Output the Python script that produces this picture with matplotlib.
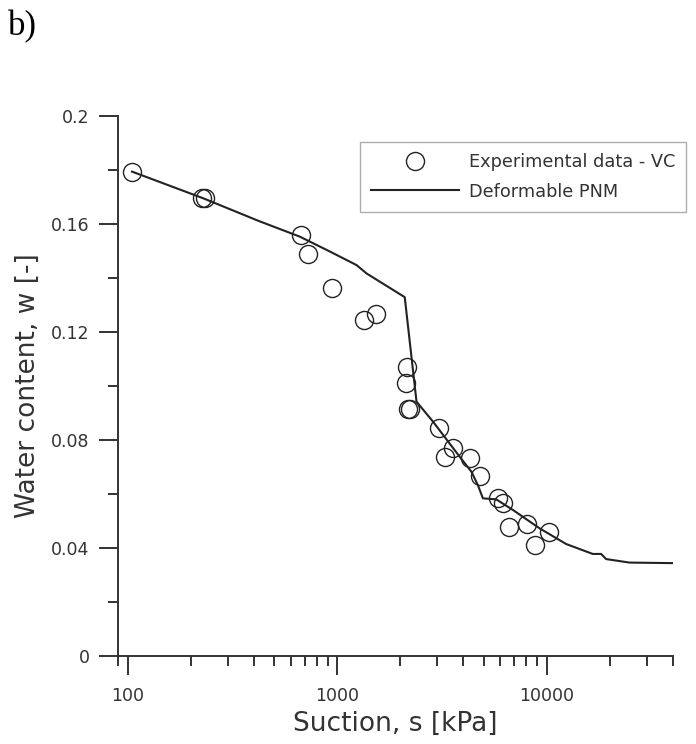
import matplotlib
matplotlib.use("Agg")
import matplotlib.pyplot as plt
from matplotlib.ticker import FixedLocator, LogLocator, NullFormatter, FuncFormatter

# experimental points (VC)
exp_suction = [105, 226, 234, 670, 728, 940, 1346, 1528, 2162, 2137, 2182, 2230,
               3070, 3567, 3259, 4285, 4783, 5848, 6170, 6591, 8063, 8738, 10300]
exp_water = [0.1794, 0.1695, 0.1695, 0.1559, 0.1489, 0.1364, 0.1244, 0.1267, 0.1072,
             0.1010, 0.0914, 0.0914, 0.0846, 0.0769, 0.0738, 0.0732, 0.0667, 0.0584,
             0.0568, 0.0479, 0.0488, 0.0411, 0.0458]

# deformable PNM curve
pnm_suction = [105, 230, 420, 664, 923, 1236, 1380, 2100, 2390, 2865, 3840, 4365, 4690,
               4955, 5740, 6890, 9230, 12350, 16560, 18160, 19190, 24800, 39800]
pnm_water = [0.1794, 0.1695, 0.1612, 0.1553, 0.1498, 0.1448, 0.1417, 0.1329, 0.0942,
             0.0868, 0.0738, 0.0683, 0.0633, 0.0584, 0.0580, 0.0541, 0.0473, 0.0415,
             0.0378, 0.0378, 0.0359, 0.0346, 0.0344]

y_major = [0, 0.04, 0.08, 0.12, 0.16, 0.2]
y_minor = [0.02, 0.06, 0.10, 0.14, 0.18]

dark = '#333333'

fig = plt.figure(figsize=(6.96, 7.44), dpi=100)
ax = fig.add_axes([118 / 696, 1 - 656 / 744, (673 - 118) / 696, (656 - 116) / 744])

ax.plot(pnm_suction, pnm_water, color='#222222', lw=1.5, label='Deformable PNM', zorder=2)
ax.plot(exp_suction, exp_water, ls='none', marker='o', ms=13, mfc='none',
        mec='#222222', mew=1.0, label='Experimental data - VC', zorder=3)

ax.set_xscale('log')
ax.set_xlim(90, 40000)
ax.set_ylim(0, 0.2)

ax.yaxis.set_major_locator(FixedLocator(y_major))
ax.yaxis.set_minor_locator(FixedLocator(y_minor))
ax.yaxis.set_major_formatter(FuncFormatter(lambda v, p: '0' if v == 0 else ('%g' % v)))
ax.xaxis.set_major_locator(FixedLocator([100, 1000, 10000]))
ax.xaxis.set_minor_locator(LogLocator(base=10, subs=range(2, 10)))
ax.xaxis.set_minor_formatter(NullFormatter())
ax.xaxis.set_major_formatter(FuncFormatter(lambda v, p: '%d' % v))

for s in ['top', 'right']:
    ax.spines[s].set_visible(False)
for s in ['left', 'bottom']:
    ax.spines[s].set_linewidth(1.4)
    ax.spines[s].set_color(dark)

ax.tick_params(which='major', length=13.5, width=1.4, color=dark, labelsize=12.5,
               labelcolor=dark)
ax.tick_params(which='minor', length=7, width=1.4, color=dark)
ax.tick_params(axis='y', which='major', pad=7)
ax.tick_params(axis='x', which='major', pad=9)

ax.set_xlabel('Suction, s [kPa]', fontsize=19, color=dark, labelpad=4)
ax.set_ylabel('Water content, w [-]', fontsize=19, color=dark, labelpad=7)

handles, labels = ax.get_legend_handles_labels()
leg = ax.legend(handles[::-1], labels[::-1], loc='upper right',
                bbox_to_anchor=(686 / 696, 1 - 142 / 744), bbox_transform=fig.transFigure,
                fontsize=12.8, frameon=True, fancybox=False, handlelength=4.95,
                handletextpad=0.56, borderpad=0.62, labelspacing=0.65, borderaxespad=0)
leg.get_frame().set_edgecolor('#999999')
leg.get_frame().set_linewidth(1.0)
for t in leg.get_texts():
    t.set_color(dark)

fig.text(8 / 696, 1 - 27 / 744, 'b)', family='Liberation Serif', fontsize=25,
         va='center', ha='left')

fig.savefig('out.png', dpi=100)
